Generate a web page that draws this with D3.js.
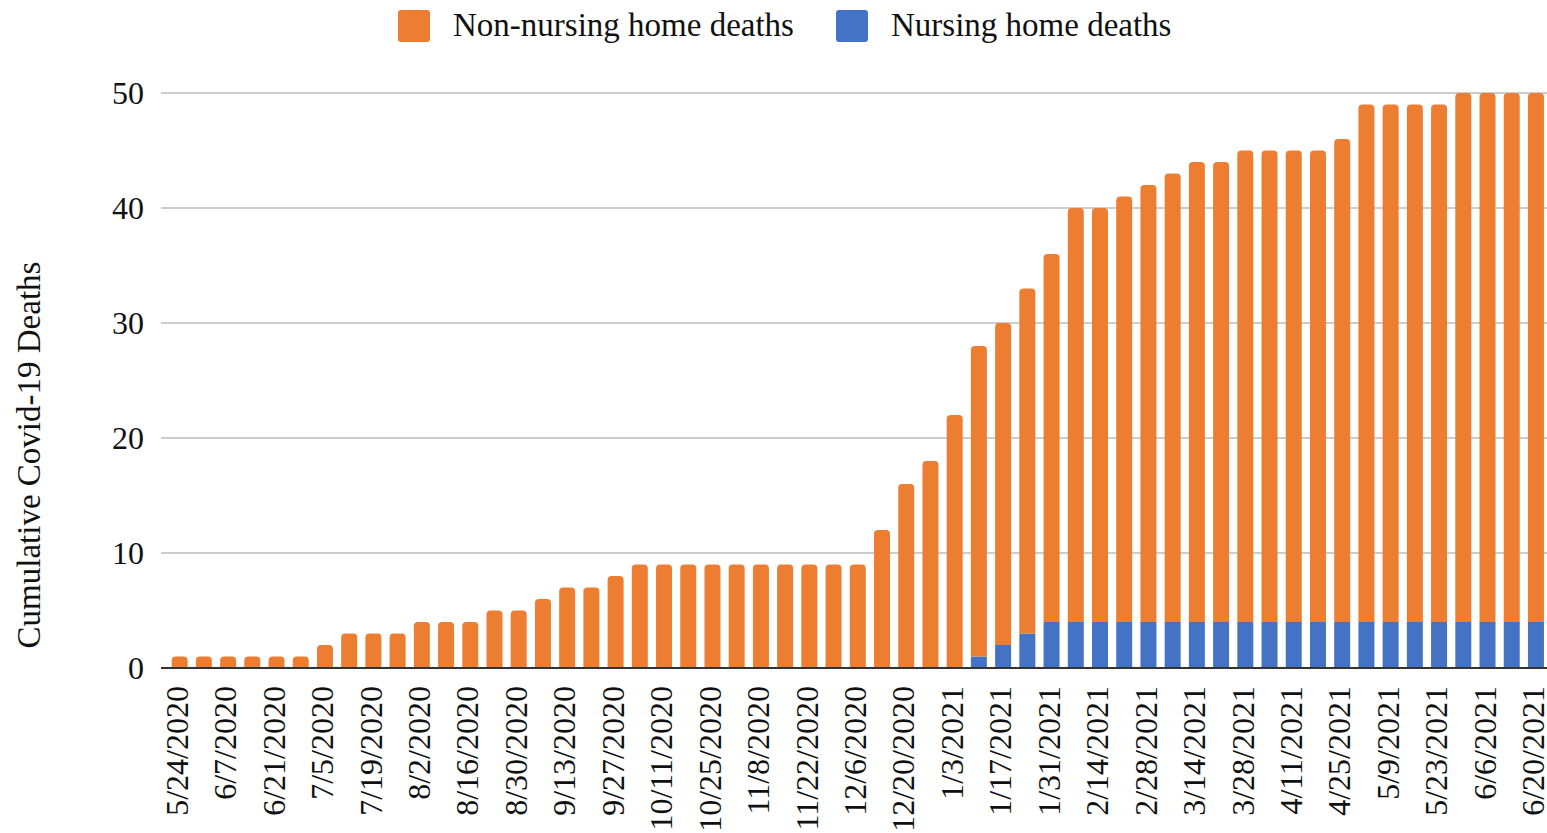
<!DOCTYPE html>
<html>
<head>
<meta charset="utf-8">
<script src="https://cdn.jsdelivr.net/npm/d3@7"></script>
<style>
  body { margin: 0; background: #fff; }
  svg { display: block; font-family: "Liberation Serif", "Times New Roman", serif; }
</style>
</head>
<body>
<script>
const width = 1547;
const height = 833;

// weekly dates (week ending)
const weeks = [
  "5/24/2020","5/31/2020","6/7/2020","6/14/2020","6/21/2020","6/28/2020",
  "7/5/2020","7/12/2020","7/19/2020","7/26/2020","8/2/2020","8/9/2020",
  "8/16/2020","8/23/2020","8/30/2020","9/6/2020","9/13/2020","9/20/2020",
  "9/27/2020","10/4/2020","10/11/2020","10/18/2020","10/25/2020","11/1/2020",
  "11/8/2020","11/15/2020","11/22/2020","11/29/2020","12/6/2020","12/13/2020",
  "12/20/2020","12/27/2020","1/3/2021","1/10/2021","1/17/2021","1/24/2021",
  "1/31/2021","2/7/2021","2/14/2021","2/21/2021","2/28/2021","3/7/2021",
  "3/14/2021","3/21/2021","3/28/2021","4/4/2021","4/11/2021","4/18/2021",
  "4/25/2021","5/2/2021","5/9/2021","5/16/2021","5/23/2021","5/30/2021",
  "6/6/2021","6/13/2021","6/20/2021"
];

const nursingHome = [
  0,0,0,0,0,0, 0,0,0,0,0,0, 0,0,0,0,0,0, 0,0,0,0,0,0,
  0,0,0,0,0,0, 0,0,0,1,2,3, 4,4,4,4,4,4, 4,4,4,4,4,4,
  4,4,4,4,4,4, 4,4,4
];

const nonNursingHome = [
  1,1,1,1,1,1, 2,3,3,3,4,4, 4,5,5,6,7,7, 8,9,9,9,9,9,
  9,9,9,9,9,12, 16,18,22,27,28,30, 32,36,36,37,38,39, 40,40,41,41,41,41,
  42,45,45,45,45,46, 46,46,46
];

const yTicks = [0, 10, 20, 30, 40, 50];

const seriesNames = ["Non-nursing home deaths", "Nursing home deaths"];
const colors = { nursing: "#4472C4", nonNursing: "#ED7D31" };

const margin = { top: 93, bottom: 165, left: 161 };

const svg = d3.select("body")
    .append("svg")
    .attr("width", width)
    .attr("height", height);

const x = d3.scaleBand()
    .domain(weeks)
    .range([margin.left, 1554.6])
    .paddingInner(0.34)
    .paddingOuter(0.44);

const y = d3.scaleLinear()
    .domain([0, 50])
    .range([height - margin.bottom, margin.top]);

// gridlines
svg.append("g")
    .selectAll("line")
    .data(yTicks.filter(d => d > 0))
    .join("line")
    .attr("x1", margin.left)
    .attr("x2", width)
    .attr("y1", d => y(d))
    .attr("y2", d => y(d))
    .attr("stroke", "#cccccc")
    .attr("stroke-width", 2);

// y tick labels
svg.append("g")
    .selectAll("text")
    .data(yTicks)
    .join("text")
    .attr("x", 144)
    .attr("y", d => y(d))
    .attr("dy", "0.35em")
    .attr("text-anchor", "end")
    .attr("font-size", 32)
    .attr("fill", "#111")
    .text(d => d);

const bw = x.bandwidth();
const r = 4;

function topRounded(x0, y0, w, h) {
    const rr = Math.min(r, h, w / 2);
    return `M${x0},${y0 + h}V${y0 + rr}Q${x0},${y0} ${x0 + rr},${y0}` +
           `H${x0 + w - rr}Q${x0 + w},${y0} ${x0 + w},${y0 + rr}V${y0 + h}Z`;
}

// nursing home segment (bottom)
svg.append("g")
    .selectAll("rect")
    .data(weeks.map((w, i) => ({ w, v: nursingHome[i] })).filter(d => d.v > 0))
    .join("rect")
    .attr("x", d => x(d.w))
    .attr("y", d => y(d.v))
    .attr("width", bw)
    .attr("height", d => y(0) - y(d.v))
    .attr("fill", colors.nursing);

// non-nursing segment (top)
svg.append("g")
    .selectAll("path")
    .data(weeks.map((w, i) => ({ w, lo: nursingHome[i], hi: nursingHome[i] + nonNursingHome[i] })))
    .join("path")
    .attr("d", d => topRounded(x(d.w), y(d.hi), bw, y(d.lo) - y(d.hi)))
    .attr("fill", colors.nonNursing);

// baseline
svg.append("line")
    .attr("x1", margin.left)
    .attr("x2", width)
    .attr("y1", y(0))
    .attr("y2", y(0))
    .attr("stroke", "#333")
    .attr("stroke-width", 2);

// x labels, every other week
svg.append("g")
    .selectAll("text")
    .data(weeks.filter((d, i) => i % 2 === 0))
    .join("text")
    .attr("transform", d => `translate(${x(d) + bw / 2 - 3},${y(0) + 18}) rotate(-90)`)
    .attr("dy", "0.35em")
    .attr("text-anchor", "end")
    .attr("font-size", 32)
    .attr("fill", "#111")
    .text(d => d);

// y axis title
svg.append("text")
    .attr("transform", `translate(28,455) rotate(-90)`)
    .attr("dy", "0.35em")
    .attr("text-anchor", "middle")
    .attr("font-size", 33)
    .attr("fill", "#111")
    .text("Cumulative Covid-19 Deaths");

// legend
const legend = [
    { name: seriesNames[0], color: colors.nonNursing, x: 398 },
    { name: seriesNames[1], color: colors.nursing, x: 836 }
];
const lg = svg.append("g")
    .selectAll("g")
    .data(legend)
    .join("g")
    .attr("transform", d => `translate(${d.x},10)`);
lg.append("rect")
    .attr("width", 32)
    .attr("height", 32)
    .attr("rx", 3)
    .attr("fill", d => d.color);
lg.append("text")
    .attr("x", 55)
    .attr("y", 26)
    .attr("font-size", 33)
    .attr("fill", "#111")
    .text(d => d.name);
</script>
</body>
</html>
